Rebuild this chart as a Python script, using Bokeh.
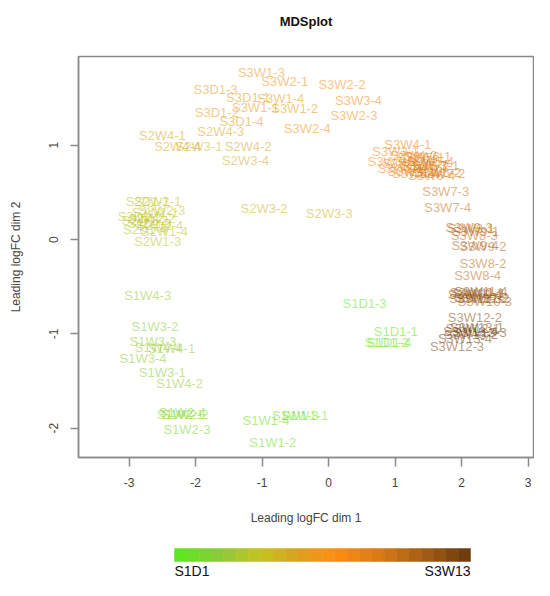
from bokeh.plotting import figure
from bokeh.models import Range1d, FixedTicker, ColumnDataSource, LinearAxis
from bokeh.layouts import column
from bokeh.embed import file_html
from bokeh.resources import INLINE
from bokeh.core.properties import value

# ---------------- data ----------------
title_text = "MDSplot"
x_label = "Leading logFC dim 1"
y_label = "Leading logFC dim 2"
x_ticks = [-3, -2, -1, 0, 1, 2, 3]
y_ticks = [-2, -1, 0, 1]

groups = ["S1D1", "S1W1", "S1W2", "S1W3", "S1W4",
          "S2D1", "S2W1", "S2W2", "S2W3", "S2W4",
          "S3D1", "S3W1", "S3W2", "S3W3", "S3W4", "S3W5", "S3W6", "S3W7",
          "S3W8", "S3W9", "S3W10", "S3W11", "S3W12", "S3W13"]

labels = [
    "S1D1-1", "S1D1-2", "S1D1-3", "S1D1-4",
    "S1W1-1", "S1W1-2", "S1W1-3", "S1W1-4",
    "S1W2-1", "S1W2-2", "S1W2-3", "S1W2-4",
    "S1W3-1", "S1W3-2", "S1W3-3", "S1W3-4",
    "S1W4-1", "S1W4-2", "S1W4-3", "S1W4-4",
    "S2D1-1", "S2D1-2", "S2D1-3", "S2D1-4",
    "S2W1-1", "S2W1-2", "S2W1-3", "S2W1-4",
    "S2W2-1", "S2W2-2", "S2W2-3", "S2W2-4",
    "S2W3-1", "S2W3-2", "S2W3-3", "S2W3-4",
    "S2W4-1", "S2W4-2", "S2W4-3", "S2W4-4",
    "S3D1-1", "S3D1-2", "S3D1-3", "S3D1-4",
    "S3W1-1", "S3W1-2", "S3W1-3", "S3W1-4",
    "S3W2-1", "S3W2-2", "S3W2-3", "S3W2-4",
    "S3W3-1", "S3W3-2", "S3W3-3", "S3W3-4",
    "S3W4-1", "S3W4-2", "S3W4-3", "S3W4-4",
    "S3W5-1", "S3W5-2", "S3W5-3", "S3W5-4",
    "S3W6-1", "S3W6-2", "S3W6-3", "S3W6-4",
    "S3W7-1", "S3W7-2", "S3W7-3", "S3W7-4",
    "S3W8-1", "S3W8-2", "S3W8-3", "S3W8-4",
    "S3W9-1", "S3W9-2", "S3W9-3", "S3W9-4",
    "S3W10-1", "S3W10-2", "S3W10-3", "S3W10-4",
    "S3W11-1", "S3W11-2", "S3W11-3", "S3W11-4",
    "S3W12-1", "S3W12-2", "S3W12-3", "S3W12-4",
    "S3W13-1", "S3W13-2", "S3W13-3", "S3W13-4",
]

dim1 = [
    1.01, 0.87, 0.54, 0.91,
    -0.36, -0.84, -0.50, -0.94,
    -2.23, -2.16, -2.13, -2.20,
    -2.50, -2.61, -2.64, -2.79,
    -2.36, -2.24, -2.72, -2.56,
    -2.72, -2.84, -2.69, -2.76,
    -2.61, -2.76, -2.57, -2.47,
    -2.57, -2.66, -2.51, -2.54,
    -1.95, -0.97, 0.01, -1.25,
    -2.50, -1.21, -1.62, -2.27,
    -1.21, -1.68, -1.70, -1.31,
    -1.10, -0.51, -1.01, -0.72,
    -0.66, 0.20, 0.38, -0.32,
    1.01, 0.94, 1.09, 0.45,
    1.19, 1.28, 1.16, 1.31,
    1.39, 1.46, 1.24, 1.53,
    1.49, 1.64, 1.43, 1.55,
    1.61, 1.70, 1.76, 1.79,
    2.14, 2.32, 2.19, 2.24,
    2.21, 2.32, 2.11, 2.20,
    2.23, 2.29, 2.35, 2.20,
    2.26, 2.32, 2.21, 2.29,
    2.17, 2.20, 1.93, 2.13,
    2.23, 2.14, 2.27, 2.05,
]

dim2 = [
    -0.97, -1.09, -0.68, -1.09,
    -1.87, -2.15, -1.87, -1.92,
    -1.85, -1.85, -2.01, -1.83,
    -1.41, -0.92, -1.08, -1.26,
    -1.16, -1.53, -0.59, -1.14,
    0.40, 0.24, 0.17, 0.11,
    0.29, 0.20, -0.02, 0.09,
    0.40, 0.22, 0.31, 0.15,
    0.99, 0.33, 0.28, 0.84,
    1.10, 0.99, 1.15, 0.99,
    1.51, 1.35, 1.59, 1.25,
    1.40, 1.39, 1.77, 1.49,
    1.68, 1.64, 1.31, 1.18,
    0.93, 0.83, 0.75, 1.47,
    1.01, 0.89, 0.81, 0.70,
    0.87, 0.77, 0.72, 0.83,
    0.88, 0.71, 0.79, 0.68,
    0.79, 0.70, 0.51, 0.34,
    0.12, -0.25, 0.04, -0.38,
    0.09, -0.07, 0.13, -0.06,
    -0.56, -0.61, -0.66, -0.58,
    -0.57, -0.63, -0.62, -0.55,
    -0.94, -0.83, -1.13, -0.97,
    -0.93, -1.01, -0.98, -1.05,
]

# ---------------- colour scale (style) ----------------
stops = [(0.00, "#5ee61e"), (0.15, "#92c83a"), (0.28, "#c4c41e"),
         (0.40, "#d8a420"), (0.55, "#ff8c14"), (0.70, "#d97a16"),
         (0.85, "#a85e14"), (1.00, "#6e3e0e")]


def hex2rgb(h):
    h = h.lstrip("#")
    return [int(h[i:i + 2], 16) for i in (0, 2, 4)]


def interp(t):
    for (t0, c0), (t1, c1) in zip(stops[:-1], stops[1:]):
        if t <= t1:
            f = (t - t0) / (t1 - t0) if t1 > t0 else 0
            a, b = hex2rgb(c0), hex2rgb(c1)
            return "#%02x%02x%02x" % tuple(int(round(a[k] + f * (b[k] - a[k]))) for k in range(3))
    return stops[-1][1]


n_groups = len(groups)
group_colors = [interp(i / (n_groups - 1)) for i in range(n_groups)]
color_of = dict(zip(groups, group_colors))
label_colors = [color_of[lab.rsplit("-", 1)[0]] for lab in labels]

FONT = "Liberation Sans"
GRAY = "#8a8a8a"
TXT = "#444444"

# ---------------- main plot ----------------
FR_L, FR_R, FR_T, FR_B = 78, 533, 56, 457
p = figure(width=534, height=532,
           x_range=Range1d(-3.76, 3.08), y_range=Range1d(-2.31, 1.94),
           output_backend="svg", toolbar_location=None,
           min_border_left=FR_L, min_border_right=534 - FR_R,
           min_border_top=FR_T, min_border_bottom=532 - FR_B)
p.background_fill_color = "white"
p.border_fill_color = "white"
p.xgrid.visible = False
p.ygrid.visible = False
p.outline_line_color = GRAY
p.outline_line_width = 1.5

xa, ya = p.below[0], p.left[0]
xa.ticker = FixedTicker(ticks=x_ticks)
ya.ticker = FixedTicker(ticks=y_ticks)
xa.major_label_overrides = {t: str(t) for t in x_ticks}
ya.major_label_overrides = {t: str(t) for t in y_ticks}
for ax in (xa, ya):
    ax.axis_line_color = GRAY
    ax.axis_line_width = 1.5
    ax.major_tick_line_color = GRAY
    ax.major_tick_line_width = 1.5
    ax.major_tick_in = 0
    ax.minor_tick_out = 0
    ax.minor_tick_in = 0
    ax.major_label_text_font = FONT
    ax.major_label_text_font_size = "12px"
    ax.major_label_text_color = TXT
    ax.axis_label_text_font = FONT
    ax.axis_label_text_font_size = "12px"
    ax.axis_label_text_font_style = "normal"
    ax.axis_label_text_color = TXT
xa.axis_label = x_label
ya.axis_label = y_label
xa.major_tick_out = 9
xa.major_label_standoff = 11
xa.axis_label_standoff = 21
ya.major_tick_out = 8
ya.major_label_standoff = 12
ya.major_label_orientation = "vertical"
ya.axis_label_standoff = 24

# title drawn as the label of a tick-less top axis (its only tick lies off-range)
top = LinearAxis(ticker=FixedTicker(ticks=[999]), axis_label=title_text,
                 axis_line_color=None, major_tick_out=0, major_tick_in=0,
                 minor_tick_out=0, minor_tick_in=0, major_label_standoff=0,
                 major_label_text_color=None,
                 axis_label_standoff=28, axis_label_text_font=FONT,
                 axis_label_text_font_size="13px",
                 axis_label_text_font_style="bold",
                 axis_label_text_color="#111111")
p.add_layout(top, "above")

src = ColumnDataSource(dict(x=dim1, y=dim2, label=labels, color=label_colors))
p.text(x="x", y="y", text="label", source=src, text_color="color",
       text_alpha=0.55, text_font=value(FONT), text_font_size="13px",
       text_align="center", text_baseline="middle")

# ---------------- colour key (frame aligned with the plot frame) ----------------
bar_left_px, bar_right_px, key_h = 174, 470, 48
unit = (bar_right_px - bar_left_px) / n_groups
kx0 = -(bar_left_px - FR_L) / unit
q = figure(width=534, height=key_h,
           x_range=Range1d(kx0, kx0 + (FR_R - FR_L) / unit),
           y_range=Range1d(key_h, 0),
           output_backend="svg", toolbar_location=None,
           x_axis_type=None, y_axis_type=None,
           min_border_left=FR_L, min_border_right=534 - FR_R,
           min_border_top=0, min_border_bottom=0)
q.xgrid.visible = False
q.ygrid.visible = False
q.outline_line_color = None
q.background_fill_color = "white"
q.border_fill_color = "white"
idx = list(range(n_groups))
q.quad(left=idx, right=[i + 1 for i in idx], top=16, bottom=29,
       fill_color=group_colors, line_color=group_colors, line_width=0.5)
q.text(x=[0], y=[30], text=[groups[0]], text_align="left",
       text_baseline="top", text_font=value(FONT),
       text_font_size="14px", text_color="#111111")
q.text(x=[n_groups], y=[30], text=[groups[-1]], text_align="right",
       text_baseline="top", text_font=value(FONT),
       text_font_size="14px", text_color="#111111")

layout = column(p, q)
open("out.html", "w").write(file_html(layout, INLINE))
